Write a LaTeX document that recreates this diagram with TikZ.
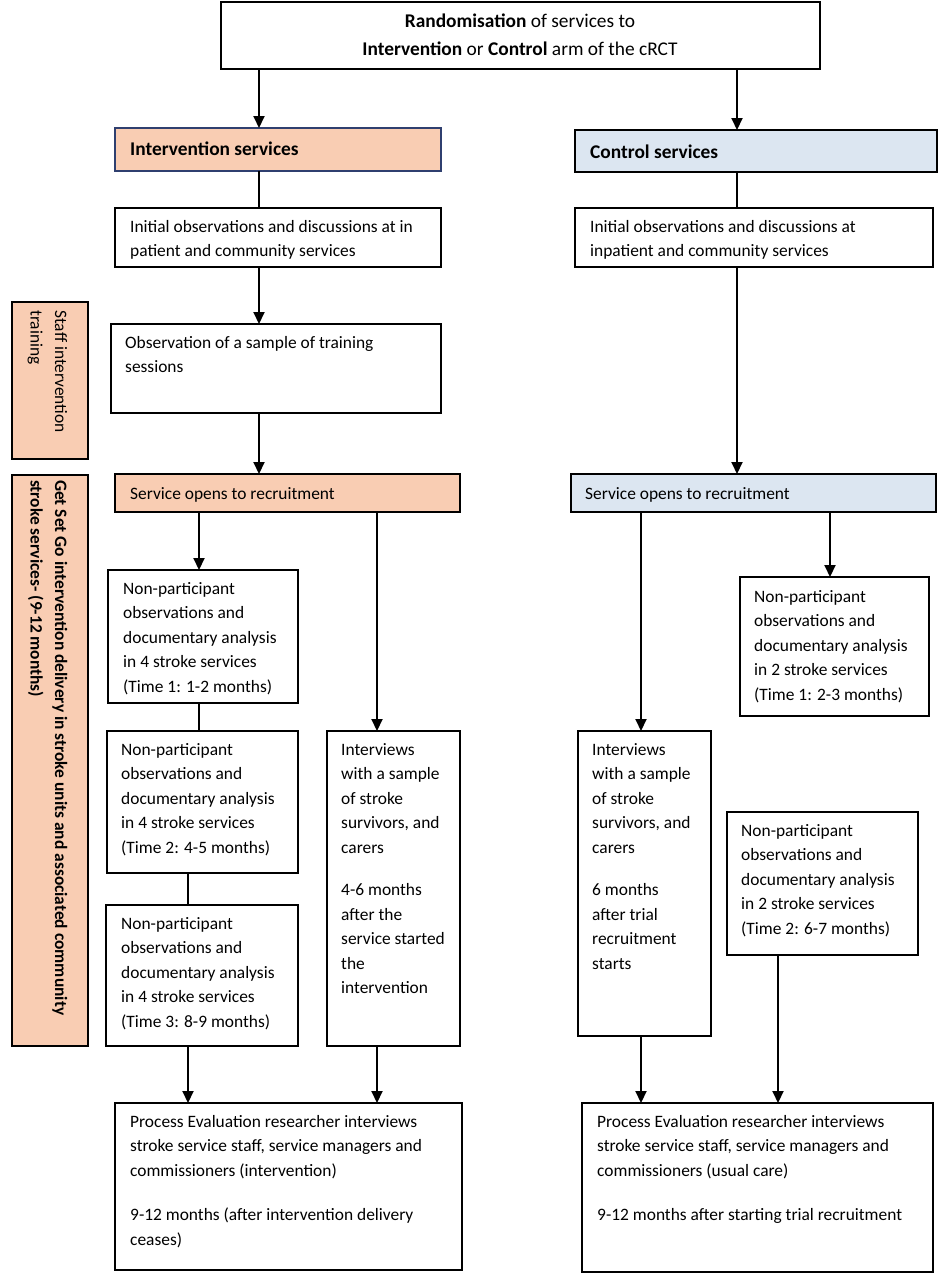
\documentclass[tikz,border=0pt]{standalone}
\usepackage{fontspec}
\setmainfont{Carlito}
\usetikzlibrary{arrows.meta}
\definecolor{peach}{HTML}{F9CDB3}
\definecolor{lblue}{HTML}{DCE6F1}
\definecolor{navy}{HTML}{2F3F6F}
\newcommand\mylines[1]{\begin{tabular}[t]{@{}l@{}}#1\end{tabular}}
\newcommand\myclines[1]{\begin{tabular}[t]{@{}c@{}}#1\end{tabular}}
\begin{document}
\begin{tikzpicture}[x=1pt,y=-1pt,
  box/.style={draw=black, line width=1.3pt, inner sep=0pt, outer sep=0pt, anchor=north west},
  txt/.style={inner sep=0pt, anchor=base west, font=\fontsize{17.4}{24.5}\selectfont},
  htxt/.style={inner sep=0pt, anchor=base west, font=\fontsize{19.4}{27}\selectfont\bfseries},
  arr/.style={line width=2pt, -{Triangle[width=11pt,length=12pt]}},
  ln/.style={line width=1.6pt}]
\useasboundingbox (0,0) rectangle (938,1280);
\fill[white] (0,0) rectangle (938,1280);

% column coordinates
\coordinate (xa) at (259,0);
\coordinate (xb) at (737,0);
\coordinate (xc) at (199,0);
\coordinate (xd) at (188,0);
\coordinate (xe) at (377,0);
\coordinate (xf) at (641,0);
\coordinate (xg) at (830,0);
\coordinate (xh) at (778,0);

% boxes
\node[box, minimum width=599pt, minimum height=67pt] (top) at (221,2) {};
\node[box, draw=navy, fill=peach, minimum width=326pt, minimum height=43pt] (ih) at (115,128) {};
\node[box, fill=lblue, minimum width=362pt, minimum height=42pt] (ch) at (575,130) {};
\node[box, minimum width=326pt, minimum height=59pt] (ii) at (115,208) {};
\node[box, minimum width=358pt, minimum height=59pt] (ci) at (575,208) {};
\node[box, minimum width=330pt, minimum height=89pt] (tr) at (111,324) {};
\node[box, fill=peach, minimum width=345pt, minimum height=38pt] (is) at (115,474) {};
\node[box, fill=lblue, minimum width=365pt, minimum height=38pt] (cs) at (571,474) {};
\node[box, minimum width=190pt, minimum height=133pt] (n1) at (108,570) {};
\node[box, minimum width=191pt, minimum height=142pt] (n2) at (107,731) {};
\node[box, minimum width=192pt, minimum height=141pt] (n3) at (106,905) {};
\node[box, minimum width=133pt, minimum height=315pt] (iv) at (327,731) {};
\node[box, minimum width=347pt, minimum height=167pt] (pi) at (115,1103) {};
\node[box, minimum width=133pt, minimum height=305pt] (cv) at (578,731) {};
\node[box, minimum width=189pt, minimum height=139pt] (c1) at (740,577) {};
\node[box, minimum width=191pt, minimum height=143pt] (c2) at (727,812) {};
\node[box, minimum width=351pt, minimum height=169pt] (pc) at (582,1103) {};
\node[box, fill=peach, minimum width=76pt, minimum height=157pt] (sa) at (12,302) {};
\node[box, fill=peach, minimum width=76pt, minimum height=571pt] (sb) at (12,475) {};

% texts
\node[txt, anchor=base, font=\fontsize{19.4}{28}\selectfont] (toptxt) at (520,27) {\myclines{\textbf{Randomisation} of services to\\\textbf{Intervention} or \textbf{Control} arm of the cRCT}};
\node[htxt] at (130,155) {Intervention services};
\node[htxt] at (590,158) {Control services};
\node[txt] at (130,232) {\mylines{Initial observations and discussions at in\\patient and community services}};
\node[txt] at (590,232) {\mylines{Initial observations and discussions at\\inpatient and community services}};
\node[txt] at (125,348) {\mylines{Observation of a sample of training\\sessions}};
\node[txt] at (130,499) {Service opens to recruitment};
\node[txt] at (585,499) {Service opens to recruitment};
\node[txt] at (123,594) {\mylines{Non-participant\\observations and\\documentary analysis\\in 4 stroke services\\(Time 1: 1-2 months)}};
\node[txt] at (121,755) {\mylines{Non-participant\\observations and\\documentary analysis\\in 4 stroke services\\(Time 2: 4-5 months)}};
\node[txt] at (121,929) {\mylines{Non-participant\\observations and\\documentary analysis\\in 4 stroke services\\(Time 3: 8-9 months)}};
\node[txt] at (341,755) {\mylines{Interviews\\with a sample\\of stroke\\survivors, and\\carers\\[18pt]4-6 months\\after the\\service started\\the\\intervention}};
\node[txt] at (130,1127) {\mylines{Process Evaluation researcher interviews\\stroke service staff, service managers and\\commissioners (intervention)\\[20pt]9-12 months (after intervention delivery\\ceases)}};
\node[txt] at (592,755) {\mylines{Interviews\\with a sample\\of stroke\\survivors, and\\carers\\[18pt]6 months\\after trial\\recruitment\\starts}};
\node[txt] at (754,602) {\mylines{Non-participant\\observations and\\documentary analysis\\in 2 stroke services\\(Time 1: 2-3 months)}};
\node[txt] at (741,836) {\mylines{Non-participant\\observations and\\documentary analysis\\in 2 stroke services\\(Time 2: 6-7 months)}};
\node[txt] at (597,1127) {\mylines{Process Evaluation researcher interviews\\stroke service staff, service managers and\\commissioners (usual care)\\[20pt]9-12 months after starting trial recruitment}};
\node[txt, rotate=-90] at (55,310) {\mylines{Staff intervention\\training}};
\node[txt, rotate=-90] at (55,480) {\mylines{\textbf{Get Set Go intervention delivery in stroke units and associated community}\\\textbf{stroke services- (9-12 months)}}};

% connectors
\draw[arr] (top.south -| xa) -- (ih.north -| xa);
\draw[arr] (top.south -| xb) -- (ch.north -| xb);
\draw[ln] (ih.south -| xa) -- (ii.north -| xa);
\draw[ln] (ch.south -| xb) -- (ci.north -| xb);
\draw[arr] (ii.south -| xa) -- (tr.north -| xa);
\draw[arr] (tr.south -| xa) -- (is.north -| xa);
\draw[arr] (ci.south -| xb) -- (cs.north -| xb);
\draw[arr] (is.south -| xc) -- (n1.north -| xc);
\draw[ln] (n1.south -| xc) -- (n2.north -| xc);
\draw[ln] (n2.south -| xd) -- (n3.north -| xd);
\draw[arr] (is.south -| xe) -- (iv.north -| xe);
\draw[arr] (n3.south -| xd) -- (pi.north -| xd);
\draw[arr] (iv.south -| xe) -- (pi.north -| xe);
\draw[arr] (cs.south -| xf) -- (cv.north -| xf);
\draw[arr] (cs.south -| xg) -- (c1.north -| xg);
\draw[arr] (cv.south -| xf) -- (pc.north -| xf);
\draw[arr] (c2.south -| xh) -- (pc.north -| xh);
\end{tikzpicture}
\end{document}
